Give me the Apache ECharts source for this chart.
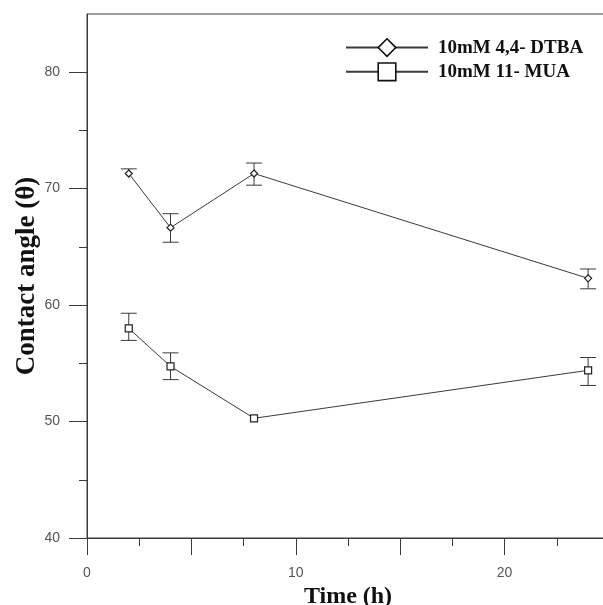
<!DOCTYPE html>
<html>
<head>
<meta charset="utf-8">
<script src="https://cdn.jsdelivr.net/npm/echarts@6/dist/echarts.min.js"></script>
<style>html,body{margin:0;padding:0;background:#fff}#c{width:603px;height:605px}</style>
</head>
<body>
<div id="c"></div>
<script>
// ---- data ----
var timeH = [2, 4, 8, 24];
var dtbaName = '10mM 4,4- DTBA';
var dtba = [71.3, 66.65, 71.3, 62.3];
var dtbaHi = [71.7, 67.85, 72.2, 63.1];
var dtbaLo = [null, 65.4, 70.3, 61.4];
var muaName = '10mM 11- MUA';
var mua = [58.0, 54.74, 50.28, 54.4];
var muaHi = [59.3, 55.9, null, 55.5];
var muaLo = [56.97, 53.6, null, 53.1];
var yLabels = [40, 50, 60, 70, 80];
var xLabels = [0, 10, 20];

var ink = '#3a3a3a';
function pairs(xs, ys) { return xs.map(function (x, i) { return [x, ys[i]]; }); }
function errData(xs, ys, hi, lo) { return xs.map(function (x, i) { return [x, ys[i], hi[i], lo[i]]; }); }

function errRender(params, api) {
  var x = api.value(0), v = api.value(1), hi = api.value(2), lo = api.value(3);
  var c = api.coord([x, v]);
  var children = [];
  var half = 8;
  var top = (hi === null || isNaN(hi)) ? null : api.coord([x, hi]);
  var bot = (lo === null || isNaN(lo)) ? null : api.coord([x, lo]);
  var y1 = top ? top[1] : c[1], y2 = bot ? bot[1] : c[1];
  children.push({ type: 'line', shape: { x1: c[0], y1: y1, x2: c[0], y2: y2 }, style: { stroke: ink, lineWidth: 1 } });
  if (top) children.push({ type: 'line', shape: { x1: c[0] - half, y1: top[1], x2: c[0] + half, y2: top[1] }, style: { stroke: ink, lineWidth: 1 } });
  if (bot) children.push({ type: 'line', shape: { x1: c[0] - half, y1: bot[1], x2: c[0] + half, y2: bot[1] }, style: { stroke: ink, lineWidth: 1 } });
  return { type: 'group', children: children };
}

var chart = echarts.init(document.getElementById('c'), null, { renderer: 'canvas' });
var tickFont = { fontFamily: 'Liberation Sans', fontSize: 14, color: '#555' };
chart.setOption({
  animation: false,
  backgroundColor: '#fff',
  grid: [
    { left: 87, top: 14, width: 522, height: 524, containLabel: false, outerBoundsMode: 'none', show: true, borderColor: ink, borderWidth: 1, backgroundColor: 'transparent' },
    { left: 87, top: 72, width: 522, height: 466, containLabel: false, outerBoundsMode: 'none' }
  ],
  legend: {
    orient: 'vertical', left: 340, top: 33,
    itemWidth: 82, itemHeight: 22, itemGap: 5,
    data: [dtbaName, muaName],
    itemStyle: { borderWidth: 1.6, borderColor: '#111', color: '#fff' },
    textStyle: { fontFamily: 'Liberation Serif', fontWeight: 'bold', fontSize: 19, color: '#111', padding: [0, 0, 0, 5] }
  },
  xAxis: [
    {
      gridIndex: 0, type: 'value', min: 0, max: 25, interval: 5,
      name: 'Time (h)', nameLocation: 'middle', nameGap: 44,
      nameTextStyle: { fontFamily: 'Liberation Serif', fontWeight: 'bold', fontSize: 24, color: '#111' },
      axisLine: { show: true, onZero: false, lineStyle: { color: ink, width: 1 } },
      axisTick: { show: true, inside: false, length: 17, lineStyle: { color: ink } },
      minorTick: { show: true, splitNumber: 2, length: 8, lineStyle: { color: ink } },
      splitLine: { show: false },
      axisLabel: Object.assign({ margin: 28, formatter: function (v) { return xLabels.indexOf(v) >= 0 ? String(v) : ''; } }, tickFont)
    },
    { gridIndex: 1, type: 'value', min: 0, max: 25, show: false }
  ],
  yAxis: [
    {
      gridIndex: 0, type: 'value', min: 40, max: 85, interval: 5,
      name: 'Contact angle (\u03B8)', nameLocation: 'middle', nameGap: 46,
      nameTextStyle: { fontFamily: 'Liberation Serif', fontWeight: 'bold', fontSize: 27, color: '#111' },
      axisLine: { show: true, onZero: false, lineStyle: { color: ink, width: 1 } },
      axisTick: { show: false },
      splitLine: { show: false },
      axisLabel: { show: false }
    },
    {
      gridIndex: 1, type: 'value', min: 40, max: 80, interval: 10,
      axisLine: { show: false, onZero: false },
      axisTick: { show: true, length: 18, lineStyle: { color: ink } },
      minorTick: { show: true, splitNumber: 2, length: 8, lineStyle: { color: ink } },
      splitLine: { show: false },
      axisLabel: Object.assign({ margin: 27, formatter: function (v) { return yLabels.indexOf(v) >= 0 ? String(v) : ''; } }, tickFont)
    }
  ],
  series: [
    {
      type: 'custom', xAxisIndex: 0, yAxisIndex: 0, renderItem: errRender, silent: true, z: 1,
      data: errData(timeH, dtba, dtbaHi, dtbaLo), encode: { x: 0, y: 1 }
    },
    {
      type: 'custom', xAxisIndex: 0, yAxisIndex: 0, renderItem: errRender, silent: true, z: 1,
      data: errData(timeH, mua, muaHi, muaLo), encode: { x: 0, y: 1 }
    },
    {
      name: dtbaName, type: 'line', xAxisIndex: 0, yAxisIndex: 0, z: 3,
      data: pairs(timeH, dtba), symbol: 'diamond', symbolSize: 7,
      lineStyle: { color: ink, width: 1 },
      itemStyle: { color: '#fff', borderColor: '#222', borderWidth: 1.2 }
    },
    {
      name: muaName, type: 'line', xAxisIndex: 0, yAxisIndex: 0, z: 3,
      data: pairs(timeH, mua), symbol: 'rect', symbolSize: 7,
      lineStyle: { color: ink, width: 1 },
      itemStyle: { color: '#fff', borderColor: '#222', borderWidth: 1.2 }
    }
  ]
});
</script>
</body>
</html>
